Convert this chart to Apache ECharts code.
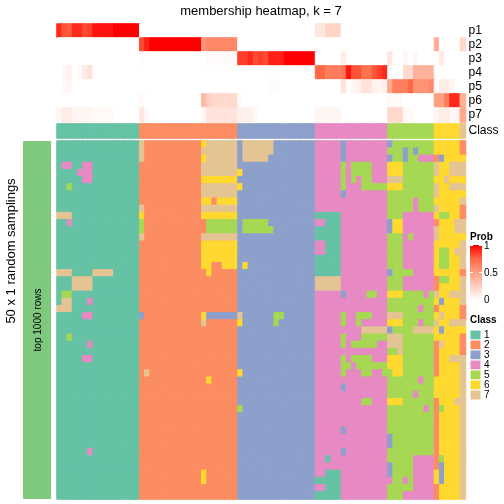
<!DOCTYPE html>
<html><head><meta charset="utf-8">
<script src="https://cdn.jsdelivr.net/npm/echarts@6/dist/echarts.min.js"></script>
<style>html,body{margin:0;padding:0;background:#fff}#c{width:504px;height:504px}</style>
</head><body><div id="c"></div>
<script>
// ---------- data ----------
const probRowNames = ['p1','p2','p3','p4','p5','p6','p7'];
const classNames = ['1','2','3','4','5','6','7'];
const classColors = ['#66C2A5','#FC8D62','#8DA0CB','#E78AC3','#A6D854','#FFD92F','#E5C494'];
// column groups: C1(16) C2(19) C3(15) C4(14) C5(9) C6(5) C7(1)
const columnClass = "1111111111111111 2222222222222222222 333333333333333 44444444444444 555555555 66666 7";

const p1 = [0.9,0.8,0.78,0.9,0.9,0.82,0.85,0.95,0.95,0.95,0.95,1,1,1,1,1,
  0,0,0,0,0,0,0,0,0,0,0,0,0,0,0,0,0,0,0,
  0,0,0,0,0,0,0,0,0,0,0,0,0,0,0,
  0.13,0.13,0.22,0.22,0.22,0,0,0,0,0,0,0,0,0,
  0,0,0,0,0,0,0,0,0,
  0,0,0,0,0,
  0];
const p2 = [0,0,0,0,0,0,0,0,0,0,0,0,0,0,0,0,
  0.82,0.92,1,1,1,1,1,1,1,1,1,1,0.55,0.6,0.6,0.6,0.6,0.6,0.6,
  0,0,0,0,0,0,0,0,0,0,0,0,0,0,0,
  0,0,0,0,0,0,0,0,0,0,0,0,0,0,
  0,0,0,0,0,0,0,0,0,
  0.42,0,0,0,0,
  0.2];
const p3 = [0,0,0,0,0,0,0,0,0,0,0,0,0,0,0,0,
  0.02,0,0,0,0,0,0,0,0,0,0,0,0,0.02,0.02,0.02,0.02,0.02,0.02,
  0.85,0.85,0.9,0.82,0.85,0.82,0.92,0.92,0.92,1,1,1,1,1,1,
  0,0,0,0,0,0.1,0,0,0,0,0,0,0,0,
  0.12,0,0,0.04,0,0.04,0,0,0,
  0,0.1,0,0,0,
  0];
const p4 = [0,0.04,0.08,0,0.03,0.1,0.15,0,0,0,0,0,0,0,0,0,
  0,0,0,0,0,0,0,0,0,0,0,0,0,0,0,0,0,0,0,
  0,0,0,0,0,0,0,0,0,0,0,0,0,0,0,
  0.75,0.75,0.65,0.65,0.65,0.68,0.95,0.8,0.8,0.7,0.7,0.8,0.85,0.9,
  0.02,0,0,0.18,0.18,0.4,0.4,0.4,0.4,
  0,0,0,0,0,
  0];
const p5 = [0,0.03,0.05,0,0,0,0,0,0,0,0,0,0,0,0,0,
  0,0,0,0,0,0,0,0,0,0,0,0,0,0,0,0,0,0,0,
  0,0,0,0,0,0,0.02,0.02,0,0,0,0,0,0,0,
  0,0,0,0,0,0.15,0,0.05,0.08,0.15,0.15,0.07,0.05,0.08,
  0.45,0.65,0.65,0.65,0.75,0.55,0.55,0.55,0.6,
  0.02,0.1,0.1,0.05,0,
  0];
const p6 = [0,0,0,0,0,0,0,0,0,0,0,0,0,0,0,0,
  0.03,0,0,0,0,0,0,0,0,0,0,0,0.35,0.25,0.2,0.2,0.2,0.2,0.2,
  0.03,0,0,0,0,0,0,0,0,0,0,0,0,0,0,
  0,0,0,0,0,0,0,0,0,0,0,0,0,0,
  0.03,0.03,0.03,0,0,0,0,0,0,
  0.5,0.5,0.65,0.9,0.9,
  0.4];
const p7 = [0.05,0.1,0.1,0.05,0.05,0.05,0.05,0.03,0.03,0.03,0.03,0,0,0,0,0,
  0.12,0.03,0,0,0,0,0,0,0,0,0,0,0.05,0.15,0.15,0.15,0.15,0.15,0.15,
  0.08,0.08,0.08,0.03,0,0,0,0,0,0,0,0,0,0,0,
  0.05,0.05,0.05,0.05,0.05,0,0,0,0,0,0,0,0,0,
  0.2,0.2,0.2,0.03,0.03,0,0,0,0,
  0.05,0.1,0.1,0.03,0.05,
  0.45];

// 50 random samplings x 79 columns (class of each column in each sampling)
const samplings = [
"1111111111111111 7222222222226777777 377777733333333 44444344444444 355555555 66666 2",
"1111111111111111 7222222222227777777 377777733333333 44444344444444 555353555 66666 2",
"1111111111111111 7222222222226777777 377777333333333 44444344444444 355355444 23666 6",
"1441144111111111 2222222222227777777 333333333333333 44444545555444 666555555 76677 7",
"1111444111111111 2222222222227777777 633333333333333 44444545555444 666555555 76677 7",
"1111144111111111 2222222222226666666 333333333333333 44444545455444 777555555 66766 6",
"1151111111111111 2222222222227777777 633333333333333 44444544455555 666555555 76677 7",
"1111111111111111 2222222222227777777 333333333333333 44444344444444 555555555 76666 6",
"1111111111111111 2222222222226626666 333333333333333 44444444444444 555554555 66666 7",
"1111111111111111 7222222222227777777 333333333333333 44444444444444 555554555 76666 2",
"7771111111111111 6222222222226666666 333333333333333 11111444444444 555444444 65566 2",
"1141111111111111 5222222222222555555 355555333333333 44111444444444 366444444 26667 7",
"1111111111111111 5222222222222555555 355555533333333 11111444444444 366444444 76667 7",
"1111111111111111 7222222222227777777 333333333333333 11111444444444 555454444 76666 6",
"1111111111111111 2222222222226666666 333333333333333 44111444444444 555444444 66666 7",
"1111111111111111 2222222222226666666 333333333333333 44111444444444 555444444 65567 7",
"1111111111111111 2222222222226666666 333333333333333 11111444444444 555444444 65566 7",
"1111111111111111 2222222222226622666 363333333333333 11111444444444 555444444 65566 7",
"7771111777711111 2222222222222622222 333333333333333 11111444444444 355554444 66666 2",
"1117777111111111 2222222222222222222 333333333333333 77777444444444 555444444 25566 7",
"1117777111111111 2222222222222222222 333333333333333 77777444444444 555444444 26666 7",
"1551111111111111 2222222222222222222 333333333333333 44444344445544 666555545 76677 7",
"1771114111111111 2222222222222222222 333333333333333 44444444444444 555555555 63666 7",
"7771111111111111 2222222222222222222 333333333333333 44444444444444 555555455 26666 2",
"1111144111111111 3222222222226333333 733333355333333 44444544555444 777555555 67666 2",
"1111111111111111 2222222222227222222 633333353333333 44444544544444 666555455 76677 7",
"1111111111111111 2222222222222222222 333333333333333 44444444477777 355557777 63666 6",
"1151111111111111 2222222222222222222 333333333333333 44444544455555 777555555 66666 2",
"1111114111111111 2222222222222222222 333333333333333 44444545555544 777555555 27666 2",
"1111111111111111 2222222222222222222 333333333333333 44444444444444 557555555 26666 2",
"1111144111111111 2222222222222222222 333333333333333 44444545555444 666555555 26677 7",
"1111111111111111 2222222222222222222 333333333333333 44444554555555 666555555 26666 7",
"1111111111111111 2722222222222222222 633333333333333 44444544455445 566555555 26666 7",
"1111111111111111 2222222222222622222 333333333333333 44444444444444 555555455 66666 7",
"1111111111111111 2222222222222222222 333333333333333 44444344444444 555555555 66666 7",
"1111111111111111 2222222222222222222 333333333333333 44444444444444 555554555 66666 7",
"1111111111111111 2222222222222222222 333333333333333 44444444455444 666555555 26667 7",
"1111111111111111 2222222222222222222 533333333333333 44444444444444 555555545 25666 7",
"1111111111111111 2222222222222222222 333333333333333 44444444444444 555555555 26666 7",
"1111111111111111 2222222222222222222 333333333333333 44444444444444 555555555 26666 7",
"1111111111111111 2222222222222222222 333333333333333 44444344444444 555555555 26666 7",
"1111111111111111 2222222222222222222 333333333333333 44444444444444 355555555 26666 7",
"1111111111111111 2222222222222222222 333333333333333 44444444444444 355555555 26666 7",
"1111114111111111 2222222222222222222 333333333333333 44444344444444 555555555 26666 7",
"1111111111111111 2222222222222222222 333333333333333 44144444444444 555554444 25666 7",
"1111111111111111 2222222222222222222 333333333333333 44444444444444 355554444 23666 7",
"1111111111111111 2222222222226222222 333333333333333 44111444444444 355554444 63666 7",
"1111111111111111 2222222222226222222 333333333333333 11111444444444 455454444 63666 7",
"1111111111111111 2222222222222222222 333333333333333 44111444444444 555554444 26666 7",
"1111111111111111 2222222222222222222 333333333333333 11111444444444 555444444 26666 7"
];

// ---------- build ----------
const probStops = ['#FFFFFF','#FFCFBF','#FF9E81','#FF6846','#FF0000'];
const probColor = (v) => echarts.color.lerp(Math.max(0, Math.min(1, v)), probStops);
const classColor = (k) => classColors[k - 1];
const cell = (c, r, v, col) => ({value:[c, r, v], itemStyle:{color:col, borderColor:col, borderWidth:1}});

const probRows = [p1,p2,p3,p4,p5,p6,p7];
const colClass = columnClass.replace(/\s/g,'').split('').map(Number);
const cols = colClass.map((_, i) => String(i));
const probData = [];
probRows.forEach((arr, r) => arr.forEach((v, c) => probData.push(cell(c, r, v, probColor(v)))));
const classRowData = colClass.map((v, c) => cell(c, 0, v, classColor(v)));
const mainData = [];
const rowIds = samplings.map((_, r) => String(r));
samplings.forEach((s, r) => {
  s.replace(/\s/g,'').split('').forEach((ch, c) => { const v = Number(ch); mainData.push(cell(c, r, v, classColor(v))); });
});

const LEFT = 57, WIDTH = 408.5;
const FONT = 'Liberation Sans, Arial, Helvetica, sans-serif';
const hiddenX = (gi) => ({type:'category', gridIndex:gi, data:cols, show:false, boundaryGap:true});
const rightLabels = {margin:3, fontSize:12, color:'#000', fontFamily:FONT, interval:0};

const chart = echarts.init(document.getElementById('c'), null, {renderer:'canvas'});
chart.setOption({
  animation:false,
  backgroundColor:'#fff',
  grid:[
    {left:LEFT, width:WIDTH, top:24, height:98},
    {left:LEFT, width:WIDTH, top:124, height:14},
    {left:LEFT, width:WIDTH, top:141, height:358}
  ],
  xAxis:[hiddenX(0), hiddenX(1), hiddenX(2)],
  yAxis:[
    {type:'category', gridIndex:0, data:probRowNames, inverse:true, position:'right',
     axisLine:{show:false}, axisTick:{show:false}, splitLine:{show:false}, axisLabel:rightLabels},
    {type:'category', gridIndex:1, data:['Class'], position:'right',
     axisLine:{show:false}, axisTick:{show:false}, splitLine:{show:false}, axisLabel:rightLabels},
    {type:'category', gridIndex:2, data:rowIds, inverse:true, show:false}
  ],
  visualMap:[
    {type:'continuous', min:0, max:1, dimension:2, seriesIndex:0, show:false,
     inRange:{color:probStops}},
    {type:'piecewise', dimension:2, seriesIndex:[1,2], show:false,
     pieces: classNames.map((n,i)=>({value:Number(n), color:classColors[i]}))}
  ],
  series:[
    {type:'heatmap', xAxisIndex:0, yAxisIndex:0, data:probData, progressive:0, emphasis:{disabled:true}},
    {type:'heatmap', xAxisIndex:1, yAxisIndex:1, data:classRowData, progressive:0, emphasis:{disabled:true}},
    {type:'heatmap', xAxisIndex:2, yAxisIndex:2, data:mainData, progressive:0, emphasis:{disabled:true}}
  ],
  graphic:[
    {type:'text', x:261, y:11, style:{text:'membership heatmap, k = 7', font:'13px '+FONT, fill:'#000', textAlign:'center', textVerticalAlign:'middle'}},
    {type:'rect', shape:{x:23, y:141, width:28, height:358}, style:{fill:'#7FC97F'}},
    {type:'text', x:38, y:320, rotation:Math.PI/2, style:{text:'top 1000 rows', font:'10px '+FONT, fill:'#000', textAlign:'center', textVerticalAlign:'middle'}},
    {type:'text', x:11, y:251, rotation:Math.PI/2, style:{text:'50 x 1 random samplings', font:'13px '+FONT, fill:'#000', textAlign:'center', textVerticalAlign:'middle'}},
    // Prob legend
    {type:'text', x:470, y:237, style:{text:'Prob', font:'bold 10px '+FONT, fill:'#000', textAlign:'left', textVerticalAlign:'middle'}},
    {type:'rect', shape:{x:470, y:245, width:12, height:55},
     style:{fill:new echarts.graphic.LinearGradient(0,0,0,1, probStops.slice().reverse().map((c,i)=>({offset:i/(probStops.length-1), color:c})))}},
    {type:'line', shape:{x1:470, y1:245.5, x2:473, y2:245.5}, style:{stroke:'#fff', lineWidth:1}},
    {type:'line', shape:{x1:479, y1:245.5, x2:482, y2:245.5}, style:{stroke:'#fff', lineWidth:1}},
    {type:'line', shape:{x1:470, y1:272.5, x2:473, y2:272.5}, style:{stroke:'#fff', lineWidth:1}},
    {type:'line', shape:{x1:479, y1:272.5, x2:482, y2:272.5}, style:{stroke:'#fff', lineWidth:1}},
    {type:'text', x:484, y:246, style:{text:'1', font:'10px '+FONT, fill:'#000', textVerticalAlign:'middle'}},
    {type:'text', x:484, y:273, style:{text:'0.5', font:'10px '+FONT, fill:'#000', textVerticalAlign:'middle'}},
    {type:'text', x:484, y:300, style:{text:'0', font:'10px '+FONT, fill:'#000', textVerticalAlign:'middle'}},
    // Class legend
    {type:'text', x:470, y:320, style:{text:'Class', font:'bold 10px '+FONT, fill:'#000', textAlign:'left', textVerticalAlign:'middle'}}
  ].concat(classNames.map((n,i)=>({type:'rect', shape:{x:470, y:330+10*i, width:11, height:10}, style:{fill:classColors[i], stroke:'#fff', lineWidth:1}})))
   .concat(classNames.map((n,i)=>({type:'text', x:484, y:335+10*i, style:{text:n, font:'10px '+FONT, fill:'#000', textVerticalAlign:'middle'}})))
});
</script></body></html>
